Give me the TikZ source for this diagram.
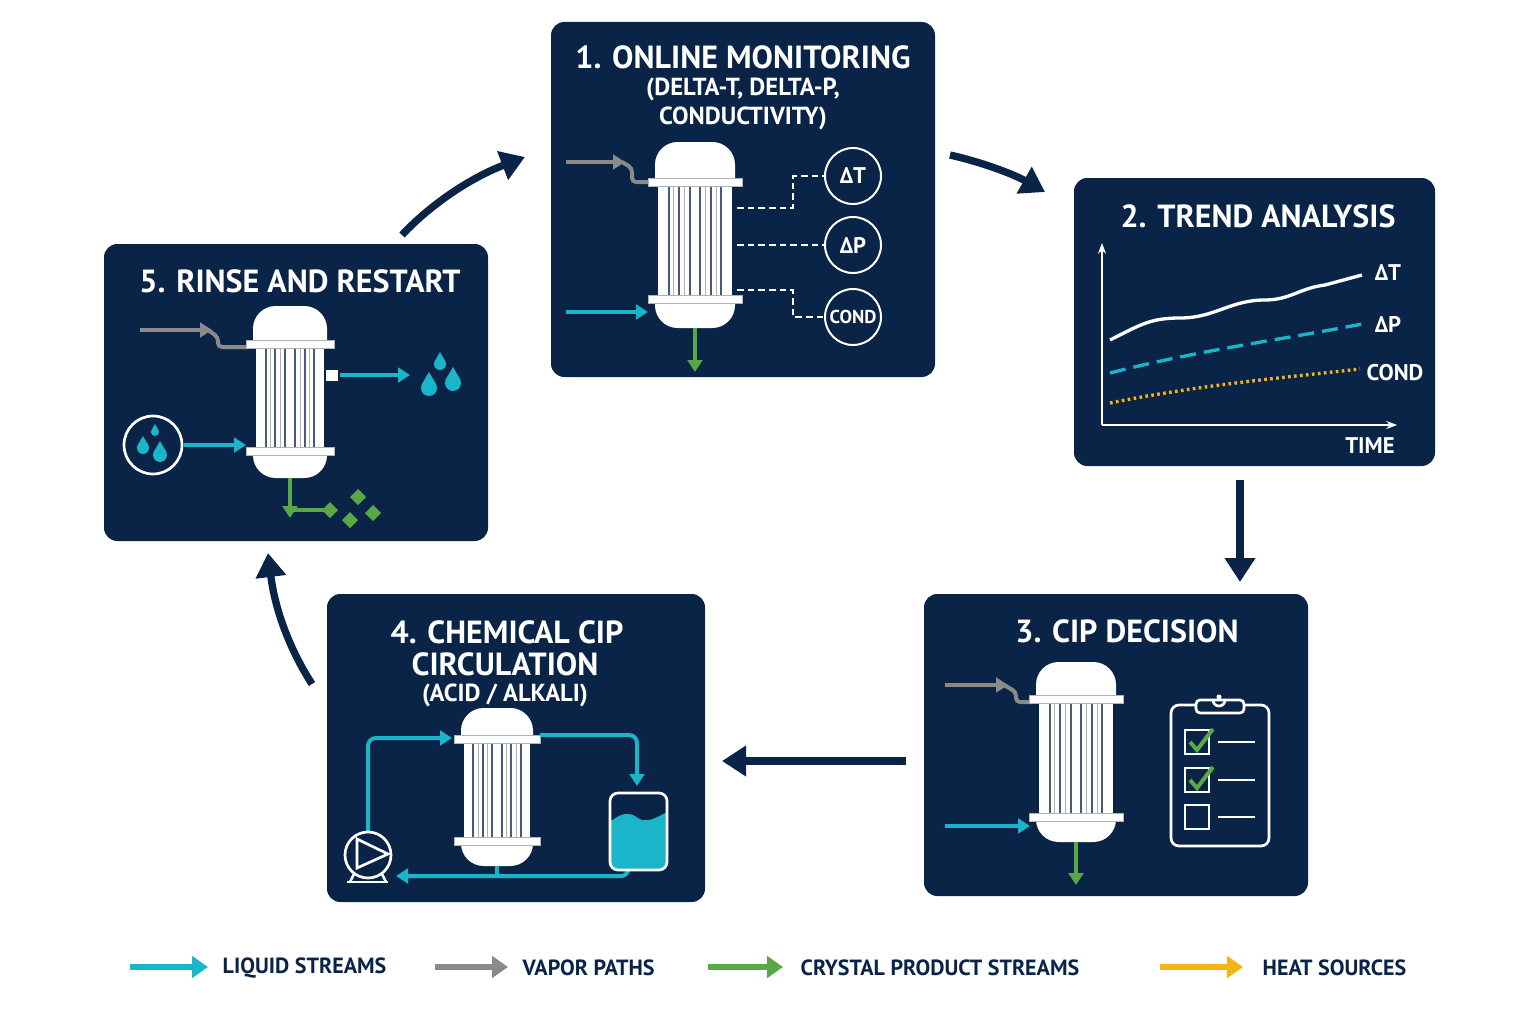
\documentclass[tikz,border=0pt]{standalone}
\usepackage{fontspec}
\setmainfont{PT Sans}
\usetikzlibrary{arrows.meta,decorations.pathmorphing}
\definecolor{navy}{HTML}{0A2448}
\definecolor{cy}{HTML}{1BB5C9}
\definecolor{vg}{HTML}{8A8A8A}
\definecolor{gr}{HTML}{5AA845}
\definecolor{org}{HTML}{F5B316}
\tikzset{
 panel/.style={fill=navy,rounded corners=10pt},
 ttl/.style={text=white,font=\bfseries\fontsize{24}{27}\selectfont,align=center},
 sub/.style={text=white,font=\bfseries\fontsize{18.5}{22}\selectfont,align=center},
 flow/.style={line width=3pt,-{Triangle[length=9pt,width=11pt]}},
 cyf/.style={flow,cy},
 vgf/.style={flow,vg},
 grf/.style={flow,gr},
 big/.style={navy,line width=5.5pt,-{Triangle[length=18pt,width=22pt]}},
 gauge/.style={circle,draw=white,line width=1.5pt,minimum size=42pt,inner sep=0pt,text=white,font=\bfseries\fontsize{17}{19}\selectfont},
 lg/.style={anchor=west,text=navy,font=\bfseries\fontsize{16.5}{19}\selectfont},
 sig/.style={white,line width=1.8pt,dash pattern=on 5pt off 3pt},
}
\newcommand\Evap[6]{% cx ytop yf1 yf2 ybot hw
 \fill[white] ({#1-#6},{#3+2}) [rounded corners=17pt]-- ({#1-#6},#2) -- ({#1+#6},#2) [sharp corners]-- ({#1+#6},{#3+2}) -- cycle;
 \fill[white] ({#1-#6},{#4-2}) [rounded corners=17pt]-- ({#1-#6},#5) -- ({#1+#6},#5) [sharp corners]-- ({#1+#6},{#4-2}) -- cycle;
 \fill[white] ({#1-#6+3},#3) rectangle ({#1+#6-3},#4);
 \foreach \f in {-0.66,-0.4,-0.13,0.13,0.4,0.66}{\draw[navy!75,line width=1.6pt] ({#1+\f*#6},#3) -- ({#1+\f*#6},#4);}
 \foreach \f in {-0.53,-0.27,0.27,0.53}{\draw[gray!60,line width=0.6pt] ({#1+\f*#6},#3) -- ({#1+\f*#6},#4);}
 \fill[white,draw=gray!60,line width=0.6pt] ({#1-#6-7},{#3-4}) rectangle ({#1+#6+7},{#3+4});
 \fill[white,draw=gray!60,line width=0.6pt] ({#1-#6-7},{#4-4}) rectangle ({#1+#6+7},{#4+4});
}
\newcommand\Drop[3]{\fill[cy] (#1,#2) circle (#3);
 \fill[cy] ({#1-0.93*#3},{#2-0.4*#3}) -- (#1,{#2-2*#3}) -- ({#1+0.93*#3},{#2-0.4*#3}) -- cycle;}
\begin{document}
\begin{tikzpicture}[x=0.75pt,y=-0.75pt]
\useasboundingbox[fill=white] (0,0) rectangle (1536,1024);
% panels
\fill[panel] (551,22) rectangle (935,377);
\fill[panel] (1074,178) rectangle (1435,466);
\fill[panel] (924,594) rectangle (1308,896);
\fill[panel] (327,594) rectangle (705,902);
\fill[panel] (104,244) rectangle (488,541);
% ---- panel 1
\node[ttl] (t1) at (743,57) {1. ONLINE MONITORING};
\node[sub] (t1b) at (743,104) {(DELTA-T, DELTA-P,\\CONDUCTIVITY)};
\draw[vgf] (566,162) -- (625,162);
\draw[vg,line width=3pt,rounded corners=3pt] (622,162) -- (632,168) -- (632,182) -- (648,182);
\Evap{695}{142}{182}{299}{328}{40}
\node[gauge] (dT) at (853,176) {ΔT};
\node[gauge] (dP) at (853,245) {ΔP};
\node[gauge,font=\bfseries\fontsize{14}{16}\selectfont] (cd) at (853,317) {COND};
\coordinate (s1) at (737,208);\coordinate (s2) at (737,245);\coordinate (s3) at (737,290);
\draw[sig] (s1) -- (793,208) -- (793,176) -- (dT.west);
\draw[sig] (s2) -- (dP.west);
\draw[sig] (s3) -- (793,290) -- (793,317) -- (cd.west);
\draw[cyf] (566,312) -- (648,312);
\draw[grf] (695,328) -- (695,372);
% ---- panel 2
\node[ttl] (t2) at (1258,216) {2. TREND ANALYSIS};
\draw[white,line width=1.5pt,-{Stealth[length=8pt]}] (1102,425) -- (1102,243);
\draw[white,line width=1.5pt,-{Stealth[length=8pt]}] (1102,425) -- (1397,425);
\draw[white,line width=2.5pt] (1110,340) .. controls (1140,325) and (1150,318) .. (1180,318) .. controls (1215,318) and (1230,300) .. (1265,300) .. controls (1290,300) and (1300,288) .. (1325,285) -- (1362,275);
\draw[cy,line width=2.5pt,dash pattern=on 12pt off 6pt] (1110,373) .. controls (1200,350) and (1280,340) .. (1362,324);
\draw[org,line width=2.5pt,dash pattern=on 2pt off 2.5pt] (1110,403) .. controls (1200,385) and (1280,378) .. (1360,369);
\node[text=white,font=\bfseries\fontsize{17}{19}\selectfont] (l1) at (1388,273) {ΔT};
\node[text=white,font=\bfseries\fontsize{17}{19}\selectfont] (l2) at (1388,324) {ΔP};
\node[text=white,font=\bfseries\fontsize{17}{19}\selectfont] (l3) at (1395,373) {COND};
\node[text=white,font=\bfseries\fontsize{17}{19}\selectfont] (l4) at (1370,446) {TIME};
% ---- panel 3
\node[ttl] (t3) at (1127,631) {3. CIP DECISION};
\draw[vgf] (945,685) -- (1008,685);
\draw[vg,line width=3pt,rounded corners=3pt] (1004,685) -- (1016,692) -- (1016,702) -- (1032,702);
\Evap{1076}{662}{699}{817}{842}{40}
\draw[cyf] (945,826) -- (1030,826);
\draw[grf] (1076,842) -- (1076,885);
\draw[white,line width=2pt,rounded corners=6pt] (1171,705) rectangle (1269,846);
\fill[navy] (1196,698) rectangle (1244,713);
\draw[white,line width=2pt,rounded corners=3pt] (1196,713) -- (1196,700) -- (1244,700) -- (1244,713) -- cycle;
\draw[white,line width=2pt] (1213,700) arc (180:0:6);
\fill[white] (1219,697) circle (2.5);
\foreach \yy/\ck in {742/1,780/1,817/0}{
 \draw[white,line width=2pt] (1185,{\yy-12}) rectangle (1209,{\yy+12});
 \draw[white,line width=2pt] (1218,\yy) -- (1255,\yy);
 \ifnum\ck=1 \draw[gr,line width=3pt] (1190,{\yy}) -- (1197,{\yy+8}) -- (1213,{\yy-13}); \fi}
% ---- panel 4
\node[ttl] (t4) at (507,632) {4. CHEMICAL CIP};
\node[ttl] (t4a) at (505,664) {CIRCULATION};
\node[sub] (t4b) at (505,695) {(ACID / ALKALI)};
\Evap{497}{708}{739}{841}{866}{36}
\draw[cy,line width=3pt,rounded corners=6pt,-{Triangle[length=9pt,width=11pt]}] (368,832) -- (368,738) -- (452,738);
\draw[cy,line width=3pt,rounded corners=6pt,-{Triangle[length=9pt,width=11pt]}] (540,735) -- (637,735) -- (637,786);
\draw[cy,line width=3pt,rounded corners=5pt,-{Triangle[length=9pt,width=11pt]}] (628,870) -- (628,876) -- (396,876);
\draw[cy,line width=3pt] (497,866) -- (497,876);
\fill[cy,rounded corners=5pt] (610,820) -- (610,870) -- (667,870) -- (667,820) [sharp corners]-- cycle;
\fill[cy] (610,822) .. controls (622,812) and (630,812) .. (638,818) .. controls (646,824) and (656,818) .. (667,812) -- (667,835) -- (610,835) -- cycle;
\draw[white,line width=2pt,rounded corners=6pt] (610,793) rectangle (667,870);
\draw[white,line width=2pt] (368,855) circle (23);
\draw[white,line width=2pt] (357,839) -- (388,854) -- (357,868) -- cycle;
\draw[white,line width=2pt] (347,882) -- (388,882);
\draw[white,line width=2pt] (354,874) -- (350,882) (382,874) -- (386,882);
% ---- panel 5
\node[ttl] (t5) at (300,281) {5. RINSE AND RESTART};
\draw[vgf] (140,330) -- (212,330);
\draw[vg,line width=3pt,rounded corners=3pt] (208,330) -- (218,337) -- (218,347) -- (248,347);
\Evap{290}{306}{344}{451}{478}{37}
\fill[white] (326,370) rectangle (338,381);
\draw[cyf] (340,375) -- (410,375);
\Drop{440}{364}{6}\Drop{429}{388}{8}\Drop{453}{383}{8}
\draw[white,line width=2pt] (153,445) circle (29);
\Drop{155}{432}{4}\Drop{143}{448}{6}\Drop{160}{455}{7}
\draw[cyf] (184,445) -- (246,445);
\draw[gr,line width=3pt] (290,478) -- (290,510) -- (328,510);
\draw[grf] (290,505) -- (290,518);
\foreach \dx/\dy in {330/510,358/497,350/520,373/513}{\fill[gr] (\dx,{\dy-8}) -- ({\dx+8},\dy) -- (\dx,{\dy+8}) -- ({\dx-8},\dy) -- cycle;}
% ---- cycle arrows
\coordinate (a5s) at (402,235); \coordinate (a1e) at (525,157);
\draw[big] (a5s) .. controls (430,205) and (470,178) .. (a1e);
\coordinate (a1s) at (950,155); \coordinate (a2e) at (1045,192);
\draw[big] (a1s) .. controls (985,163) and (1015,175) .. (a2e);
\coordinate (a2s) at (1240,480); \coordinate (a3e) at (1240,582);
\draw[big] (a2s) -- (a3e);
\coordinate (a3s) at (906,761); \coordinate (a4e) at (722,761);
\draw[big] (a3s) -- (a4e);
\coordinate (a4s) at (312,684); \coordinate (a5e) at (268,553);
\draw[big] (a4s) .. controls (290,650) and (275,610) .. (a5e);
% ---- legend
\coordinate (g1) at (130,967);\coordinate (g1e) at (208,967);
\draw[cy,line width=4pt,-{Triangle[length=12pt,width=16pt]}] (g1) -- (g1e);
\node[lg] (L1) at (218,968) {LIQUID STREAMS};
\coordinate (g2) at (435,967);\coordinate (g2e) at (508,967);
\draw[vg,line width=4pt,-{Triangle[length=12pt,width=16pt]}] (g2) -- (g2e);
\node[lg] (L2) at (518,968) {VAPOR PATHS};
\coordinate (g3) at (708,967);\coordinate (g3e) at (783,967);
\draw[gr,line width=4pt,-{Triangle[length=12pt,width=16pt]}] (g3) -- (g3e);
\node[lg] (L3) at (796,968) {CRYSTAL PRODUCT STREAMS};
\coordinate (g4) at (1160,967);\coordinate (g4e) at (1243,967);
\draw[org,line width=4pt,-{Triangle[length=12pt,width=16pt]}] (g4) -- (g4e);
\node[lg] (L4) at (1258,968) {HEAT SOURCES};
\end{tikzpicture}
\end{document}
